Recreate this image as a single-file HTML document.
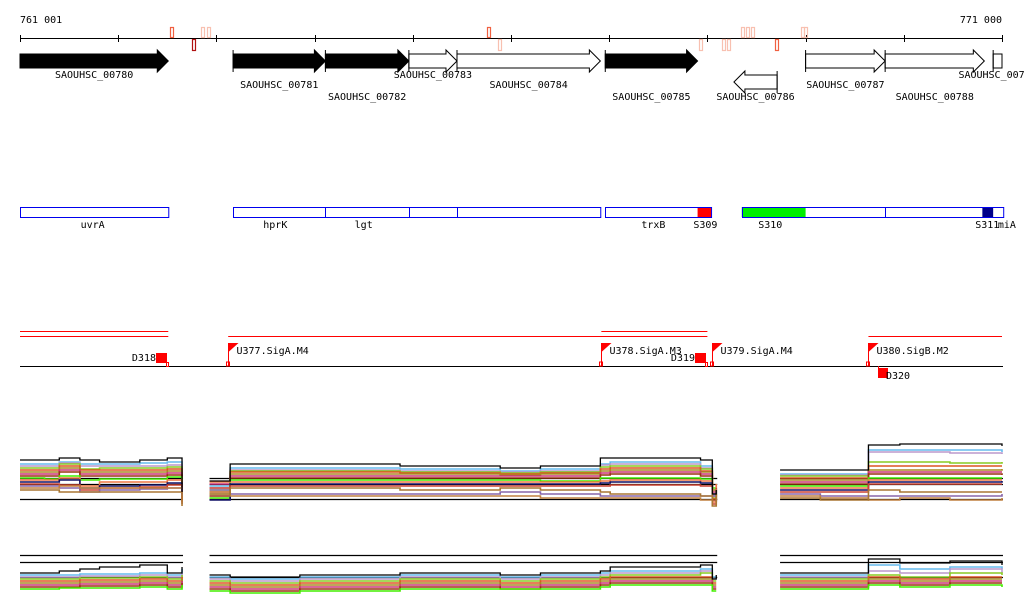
<!DOCTYPE html>
<html><head><meta charset="utf-8"><style>
html,body{margin:0;padding:0;background:#fff;}
svg{display:block;font-family:"DejaVu Sans Mono","Liberation Mono",monospace;font-size:10px;}
</style></head><body>
<svg id="chart" width="1024" height="611" viewBox="0 0 1024 611" xmlns="http://www.w3.org/2000/svg">
<rect width="1024" height="611" fill="#fff"/>
<g id="ruler"></g>
<g id="genes"></g>
<g id="operons"></g>
<g id="tus"></g>
<g id="expr"></g>
</svg>
<script>
// ---- data (positions in kb from 761 001) ----
const startLabel = "761 001";
const endLabel = "771 000";
const tickKb = [0,1,2,3,4,5,6,7,8,9,10];
const geneNames = ["SAOUHSC_00780","SAOUHSC_00781","SAOUHSC_00782","SAOUHSC_00783","SAOUHSC_00784","SAOUHSC_00785","SAOUHSC_00786","SAOUHSC_00787","SAOUHSC_00788","SAOUHSC_00789"];
const geneStart = [0,2.17,3.11,3.96,4.45,5.96,7.27,8.0,8.81,9.91];
const geneEnd   = [1.51,3.11,3.96,4.45,5.91,6.90,7.71,8.81,9.82,10.0];
const geneStrand= [1,1,1,1,1,1,-1,1,1,1];
const geneFilled= [1,1,1,0,0,1,0,0,0,0];
const geneRow   = [0,0,0,0,0,0,1,0,0,0];
const siteKb = [1.53,1.75,1.84,1.90,4.76,4.87,6.91,7.15,7.20,7.34,7.39,7.44,7.69,7.95,7.98];
const siteUp = [1,0,1,1,1,0,0,0,0,1,1,1,0,1,1];
const siteColor = ["#f06040","#b01010","#f8c0b0","#f8c0b0","#f06040","#f8c0b0","#f8c0b0","#f8c0b0","#f8c0b0","#f8c0b0","#f8c0b0","#f8c0b0","#f06040","#f8c0b0","#f8c0b0"];
const opStart = [0,2.17,5.96,7.35];
const opEnd = [1.51,5.91,7.04,10.01];
const opDividers = [3.11,3.96,4.45,8.81];
const opLabels = ["uvrA","hprK","lgt","trxB","S309","S310","S311","miA"];
const opLabelKb = [0.74,2.6,3.5,6.45,6.98,7.64,9.85,10.05];
const opFillStart = [6.90,7.35,9.80];
const opFillEnd = [7.04,8.0,9.91];
const opFillColor = ["#ff0000","#00ee00","#000088"];
const tuNames = ["U377.SigA.M4","U378.SigA.M3","U379.SigA.M4","U380.SigB.M2"];
const tuKb = [2.12,5.92,7.05,8.64];
const termNames = ["D318","D319","D320"];
const termKb = [1.50,6.99,8.78];
const termBelow = [0,0,1];
const redLineStart = [0,0,2.12,5.92,8.64];
const redLineEnd = [1.51,1.51,7.00,7.00,10.0];
const redLineRow = [0,1,1,0,1];
// expression sample positions (kb)
const sampKb = [0,0.25,0.40,0.61,0.81,1.22,1.50,1.65, 1.93,2.14,2.85,3.87,4.89,5.30,5.91,6.01,6.93,7.05,7.09, 7.74,8.15,8.64,8.96,9.47,10.0];
const panelStartKb = [0,1.93,7.74];
const panelEndKb = [1.66,7.10,10.01];
// top panel values (pixel offset above baseline)
const topBlack = [24,24,26,24,22,24,26,-8, 3,20,20,18,16,18,26,26,24,-10,-6, 14,14,39,40,40,38];
const topSeries = [
 [20,20,22,20,20,21,22,-6, -2,16,16,15,13,15,20,22,18,-12,-4, 10,10,34,34,34,32],
 [18,18,21,18,18,18,19,-8, -4,14,14,13,12,13,19,20,16,-12,-6, 9,9,32,32,31,30],
 [16,16,20,15,16,16,17,-10, -6,13,13,12,11,12,17,18,15,-14,-8, 8,8,22,22,21,22],
 [14,14,18,14,14,14,15,-12, -8,12,12,11,10,11,15,16,13,-15,-10, 6,6,18,18,18,18],
 [12,12,16,12,12,12,13,-6, -10,10,10,10,9,10,13,14,12,-6,-12, 4,4,14,14,14,15],
 [10,10,14,10,10,10,11,-14, 0,8,8,8,8,8,11,12,10,-8,-2, 2,2,12,12,12,12],
 [8,8,12,8,8,8,9,-16, -12,6,6,6,6,6,9,10,8,-16,-14, 0,0,10,10,10,9],
 [6,5,8,4,5,5,7,-4, -14,4,4,4,4,3,6,6,5,-4,-16, -2,-2,6,6,6,6],
 [4,4,6,-2,2,2,4,-18, 2,2,2,2,2,2,3,4,3,-18,0, -4,-4,4,4,4,4],
 [2,2,4,-4,-2,-1,1,-10, -16,0,0,0,0,0,1,2,1,-10,-18, -6,-6,2,2,2,3],
 [0,0,-1,-6,-4,-3,-1,-20, -4,-2,-2,-2,-2,-2,-2,-1,-2,-20,-4, -8,-8,0,0,0,0],
 [-2,-2,-4,-8,-6,-5,-4,-12, -6,-10,-10,-10,-8,-10,-12,-12,-12,-12,-6, -10,-12,-12,-12,-12,-10],
 [-4,-4,-2,-4,-4,-4,-4,-4, -8,-12,-12,-12,-12,-14,-14,-14,-16,-6,-8, -12,-14,-16,-14,-16,-14],
 [-6,-6,-8,-8,-8,-8,-8,-22, -10,-4,-4,-6,-4,-6,-8,-10,-12,-22,-10, -14,-16,-6,-8,-8,-8]
];
// bottom panel values (pixel offset above baseline)
const botBlack = [4,4,6,8,10,12,4,10, 2,0,2,4,2,4,6,10,12,-2,2, 4,4,18,14,16,12];
const botSeries = [
 [2,2,2,3,3,4,2,8, 0,-2,0,2,0,2,4,6,8,0,0, 2,2,12,8,10,8],
 [0,0,0,1,1,2,0,4, -2,-4,-2,0,-2,0,2,4,6,-2,-2, 0,0,6,4,8,4],
 [-2,-2,-2,-1,-1,0,-2,2, -4,-6,-4,-2,-4,-2,0,2,4,-4,-4, -2,-2,2,0,4,2],
 [-4,-4,-4,-3,-3,-2,-4,0, -6,-8,-6,-4,-6,-4,-2,0,0,-6,-6, -4,-4,0,-2,0,0],
 [-6,-6,-6,-5,-5,-4,-6,-2, -8,-10,-8,-6,-8,-6,-4,-2,-2,-8,-8, -6,-6,-2,-4,-2,-2],
 [-8,-8,-8,-7,-7,-6,-8,-4, -10,-12,-10,-8,-10,-8,-6,-4,-4,-10,-10, -8,-8,-4,-6,-4,-4],
 [-10,-10,-10,-9,-9,-8,-10,-6, -12,-14,-12,-10,-12,-10,-8,-6,-6,-12,-12, -10,-10,-6,-8,-6,-6],
 [-12,-12,-11,-11,-11,-10,-12,-8, -14,-16,-14,-12,-12,-12,-10,-8,-8,-14,-14, -12,-12,-8,-10,-8,-10]
];
const seriesColors = ["#66bbee","#bb99cc","#88cc22","#dd5522","#aa8822","#cc3377","#993311","#44ee00","#ee7744","#111166","#cc4433","#8866aa","#c08040","#aa7733"];

// ---- scales ----
const X0 = 20, PXKB = 98.2;
function x(kb){ return X0 + kb*PXKB; }
const TOPBASE = 484, BOTBASE = 577;
function yTop(v){ return TOPBASE - v; }
function yBot(v){ return BOTBASE - v; }
const NS = "http://www.w3.org/2000/svg";
function mk(tag, parent, attrs){ const e=document.createElementNS(NS,tag); for(const k in attrs) e.setAttribute(k,attrs[k]); parent.appendChild(e); return e; }

// ---- ruler ----
const ruler = document.getElementById('ruler');
let l = mk('line', ruler, {x1:x(0),y1:38.5,x2:x(10),y2:38.5,stroke:'#000'});


tickKb.forEach(k=>{
  const t = mk('line', ruler, {x1:Math.round(x(k))+0.5,y1:35,x2:Math.round(x(k))+0.5,y2:42,stroke:'#000'});
  
  
});
let tx = mk('text', ruler, {x:20,y:23,fill:'#000'}); tx.textContent = startLabel;


tx = mk('text', ruler, {x:1002,y:23,fill:'#000','text-anchor':'end'}); tx.textContent = endLabel;


siteKb.forEach((k,i)=>{
  const r = mk('rect', ruler, {x:Math.round(x(k))+0.5,y:siteUp[i]?27.5:39.5,width:3,height:siteUp[i]?10:11,fill:'none',stroke:siteColor[i],'stroke-width':1.2});
  
  
});

// ---- genes ----
const genes = document.getElementById('genes');
geneNames.forEach((n,i)=>{
  const a=x(geneStart[i]), b=x(geneEnd[i]);
  const cy = geneRow[i]? 82 : 61;
  const g = mk('g', genes, {});
  
  
  const head = Math.min(11,(b-a)*0.6);
  let pts;
  if(geneStrand[i]>0) pts=[[a,cy-7],[b-head,cy-7],[b-head,cy-11],[b,cy],[b-head,cy+11],[b-head,cy+7],[a,cy+7]];
  else pts=[[b,cy-7],[a+head,cy-7],[a+head,cy-11],[a,cy],[a+head,cy+11],[a+head,cy+7],[b,cy+7]];
  if(i===9) pts=[[a,cy-7],[b,cy-7],[b,cy+7],[a,cy+7]];
  mk('polygon', g, {points:pts.map(p=>p.join(',')).join(' '),fill:geneFilled[i]?'#000':'#fff',stroke:'#000','stroke-width':1});
  const edge = geneStrand[i]>0? a : b;
  if(i>0) mk('line', g, {x1:edge,y1:cy-11,x2:edge,y2:cy+11,stroke:'#000'});
  let ly = 78;
  if(i===1||i===4||i===7) ly=88;
  if(i===2||i===5||i===6||i===8) ly=100;
  const t = mk('text', g, {x:(a+b)/2,y:ly,'text-anchor':'middle',fill:'#000'});
  t.textContent=n;
});

// ---- operons ----
const ops = document.getElementById('operons');
opFillStart.forEach((s,i)=>{
  const r = mk('rect', ops, {x:x(s),y:207,width:x(opFillEnd[i])-x(s),height:10,fill:opFillColor[i]});
  
  
});
opStart.forEach((s,i)=>{
  const r = mk('rect', ops, {x:Math.round(x(s))+0.5,y:207.5,width:x(opEnd[i])-x(s),height:10,fill:'none',stroke:'#0000ee'});
  
  
});
opDividers.forEach(k=>{
  const d = mk('line', ops, {x1:Math.round(x(k))+0.5,y1:207,x2:Math.round(x(k))+0.5,y2:218,stroke:'#0000ee'});
  
  
});
opLabels.forEach((n,i)=>{
  const t = mk('text', ops, {x:x(opLabelKb[i]),y:228,'text-anchor':'middle',fill:'#000'});
  t.textContent=n;
  
  
});

// ---- transcription units ----
const tus = document.getElementById('tus');
redLineStart.forEach((s,i)=>{
  const r = mk('line', tus, {x1:x(s),y1:redLineRow[i]?336.5:331.5,x2:x(redLineEnd[i]),y2:redLineRow[i]?336.5:331.5,stroke:'#ff0000'});
  
  
});
let bl = mk('line', tus, {x1:20,y1:366.5,x2:1003,y2:366.5,stroke:'#000'});


tuNames.forEach((n,i)=>{
  const px = Math.round(x(tuKb[i]))+0.5;
  const g = mk('g', tus, {});
  
  
  mk('line', g, {x1:px,y1:343,x2:px,y2:366,stroke:'#ff0000'});
  mk('polygon', g, {points:`${px},343 ${px+10},343 ${px},352`,fill:'#ff0000'});
  mk('rect', g, {x:px-2,y:362,width:3,height:4,fill:'none',stroke:'#ff0000'});
  const t = mk('text', g, {x:px+8,y:354,fill:'#000'}); t.textContent=n;
});
termNames.forEach((n,i)=>{
  const px = Math.round(x(termKb[i]));
  const g = mk('g', tus, {});
  
  
  if(termBelow[i]){
    mk('line', g, {x1:px-3.5,y1:366,x2:px-3.5,y2:378,stroke:'#ff0000'});
    mk('rect', g, {x:px-3,y:368,width:9,height:10,fill:'#ff0000'});
    const t = mk('text', g, {x:px+4,y:379,fill:'#000'}); t.textContent=n;
  } else {
    mk('rect', g, {x:px-11,y:353,width:11,height:10,fill:'#ff0000'});
    mk('rect', g, {x:px-0.5,y:362.5,width:2,height:4,fill:'none',stroke:'#ff0000'});
    const t = mk('text', g, {x:px-11,y:361,fill:'#000','text-anchor':'end'}); t.textContent=n;
  }
});

// ---- expression panels ----
const expr = document.getElementById('expr');
function drawPanel(yf, black, series, refLines, name){
  panelStartKb.forEach((ps,p)=>{
    const pe = panelEndKb[p];
    const g = mk('g', expr, {});
    
    
    refLines.forEach(yy=>{
      const r = mk('line', g, {x1:x(ps),y1:yy+0.5,x2:x(pe),y2:yy+0.5,stroke:'#000','stroke-width':1.3});
      
      
    });
    const idx = sampKb.map((k,i)=>i).filter(i=>sampKb[i]>=ps-1e-6 && sampKb[i]<=pe+1e-6);
    const all = series.concat([black]);
    all.forEach((vals,si)=>{
      let d='';
      idx.forEach((i,j)=>{
        const xx=x(sampKb[i]), yy=yf(vals[i]);
        if(j===0) d+=`M${xx},${yy}`;
        else { d+=`H${xx}V${yy}`; }
      });
      const isBlack = si===all.length-1;
      const path = mk('path', g, {d:d,fill:'none',stroke:isBlack?'#000':seriesColors[si%seriesColors.length],'stroke-width':isBlack?1.3:1.6});
      
      
    });
  });
}
drawPanel(yTop, topBlack, topSeries, [478,484,499], 'top-expression');
drawPanel(yBot, botBlack, botSeries, [555,562,577], 'bottom-expression');
</script>
</body></html>
